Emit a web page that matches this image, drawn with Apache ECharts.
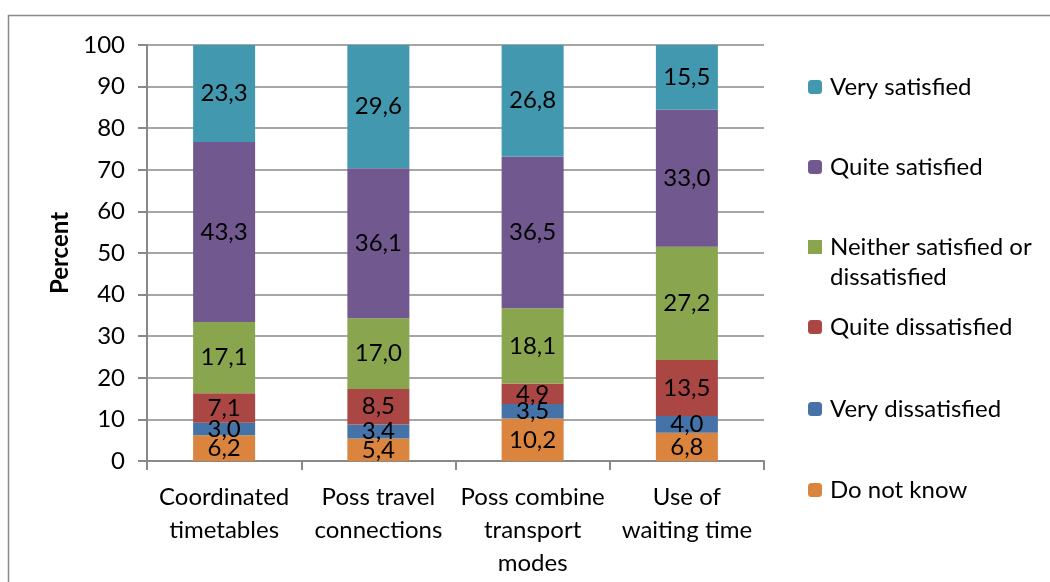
<!DOCTYPE html>
<html>
<head>
<meta charset="utf-8">
<script src="https://cdn.jsdelivr.net/npm/echarts@6/dist/echarts.min.js"></script>
<style>html,body{margin:0;padding:0;background:#fff}#c{width:1050px;height:582px}</style>
</head>
<body>
<div id="c"></div>
<script>
var categories = ['Coordinated\ntimetables', 'Poss travel\nconnections', 'Poss combine\ntransport\nmodes', 'Use of\nwaiting time'];
var doNotKnow = [6.2, 5.4, 10.2, 6.8];
var veryDissatisfied = [3.0, 3.4, 3.5, 4.0];
var quiteDissatisfied = [7.1, 8.5, 4.9, 13.5];
var neither = [17.1, 17.0, 18.1, 27.2];
var quiteSatisfied = [43.3, 36.1, 36.5, 33.0];
var verySatisfied = [23.3, 29.6, 26.8, 15.5];
var yTicks = [0, 10, 20, 30, 40, 50, 60, 70, 80, 90, 100];

var FONT = 'Lato';
var FS = 24;
var gray = '#898989';

var seriesDefs = [
  {name: 'Do not know', data: doNotKnow, color: '#DB843D'},
  {name: 'Very dissatisfied', data: veryDissatisfied, color: '#4572A7'},
  {name: 'Quite dissatisfied', data: quiteDissatisfied, color: '#AA4643'},
  {name: 'Neither satisfied or dissatisfied', data: neither, color: '#89A54E'},
  {name: 'Quite satisfied', data: quiteSatisfied, color: '#71588F'},
  {name: 'Very satisfied', data: verySatisfied, color: '#4198AF'}
];

var series = seriesDefs.map(function (s) {
  return {
    name: s.name,
    type: 'bar',
    stack: 'total',
    barWidth: 62,
    data: s.data,
    itemStyle: {color: s.color},
    label: {
      show: true,
      position: 'inside',
      color: '#000',
      fontFamily: FONT,
      fontSize: FS,
      formatter: function (p) { return p.value.toFixed(1).replace('.', ','); }
    }
  };
});

var legendCenters = {
  'Very satisfied': 87,
  'Quite satisfied': 167,
  'Neither satisfied or dissatisfied': 247,
  'Quite dissatisfied': 327,
  'Very dissatisfied': 409,
  'Do not know': 490
};

var legends = seriesDefs.map(function (s) {
  var c = legendCenters[s.name];
  if (s.name === 'Neither satisfied or dissatisfied') {
    return {
      left: 808, top: c - 15, padding: 0,
      orient: 'vertical',
      data: [s.name],
      itemWidth: 14, itemHeight: 60, itemGap: 0,
      icon: 'path://M0,0L14,0Z M0,8h14v14h-14z M0,60L14,60Z',
      formatter: function () { return 'Neither satisfied or\ndissatisfied'; },
      textStyle: {fontFamily: FONT, fontSize: FS, color: '#000', lineHeight: 30, padding: [0, 0, 0, 3]},
      selectedMode: false
    };
  }
  return {
    left: 808, top: c - 12, padding: 0,
    orient: 'vertical',
    data: [s.name],
    itemWidth: 14, itemHeight: 14,
    textStyle: {fontFamily: FONT, fontSize: FS, color: '#000', lineHeight: 24, padding: [0, 0, 0, 3]},
    selectedMode: false
  };
});

var chart = echarts.init(document.getElementById('c'));
chart.setOption({
  animation: false,
  backgroundColor: '#fff',
  graphic: [{
    type: 'rect',
    shape: {x: 8.5, y: 15.5, width: 1100, height: 700},
    style: {fill: 'none', stroke: gray, lineWidth: 1.5},
    silent: true,
    z: -1
  }],
  grid: {left: 147, top: 45, right: 286, bottom: 121, containLabel: false},
  legend: legends,
  xAxis: {
    type: 'category',
    data: categories,
    boundaryGap: true,
    axisLine: {lineStyle: {color: gray, width: 2}},
    axisTick: {show: true, length: 9, lineStyle: {color: gray, width: 2}},
    axisLabel: {color: '#000', fontFamily: FONT, fontSize: FS, lineHeight: 33, margin: 20, interval: 0}
  },
  yAxis: {
    type: 'value',
    min: yTicks[0],
    max: yTicks[yTicks.length - 1],
    interval: 10,
    name: 'Percent',
    nameLocation: 'middle',
    nameGap: 74,
    nameRotate: 90,
    nameTextStyle: {color: '#000', fontFamily: FONT, fontSize: FS, fontWeight: 'bold'},
    axisLine: {show: true, lineStyle: {color: gray, width: 2}},
    axisTick: {show: true, length: 9, lineStyle: {color: gray, width: 2}},
    axisLabel: {color: '#000', fontFamily: FONT, fontSize: FS, margin: 22},
    splitLine: {show: true, lineStyle: {color: gray, width: 1.5}}
  },
  series: series
});
</script>
</body>
</html>
